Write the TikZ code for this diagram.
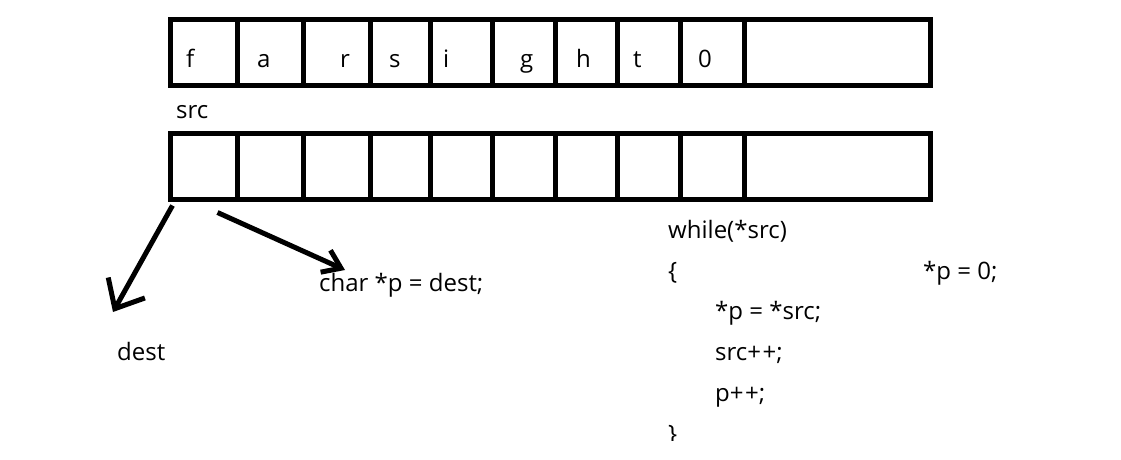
\documentclass[tikz,border=0pt]{standalone}
\usepackage{fontspec}
\setmainfont{Open Sans}
\usetikzlibrary{arrows.meta}

\tikzset{
  cellbox/.style={draw, line width=5pt, minimum height=66pt, inner sep=0pt},
  txt/.style={anchor=base west, inner sep=0pt, font=\fontsize{24}{29}\selectfont},
  ptr/.style={line width=5pt}
}

\begin{document}
\begin{tikzpicture}[x=1pt,y=-1pt]
\useasboundingbox (0,0) rectangle (1121,460);

% Drawing the two rows of cells
\foreach \xa/\xb [count=\i] in {170/237,237/303,303/370,370/430,430/492,492/555,555/617,617/680,680/744,744/930}{
  \node[cellbox, minimum width={(\xb-\xa)*1pt}] (t\i) at ({(\xa+\xb)/2},52.5) {};
  \node[cellbox, minimum width={(\xb-\xa)*1pt}] (b\i) at ({(\xa+\xb)/2},166.5) {};
}

% Letters of the source string
\foreach \x/\c [count=\i] in {186/f,257/a,340/r,389/s,443/i,520/g,576/h,633/t,698/0}{
  \node[txt] (c\i) at (\x,67) {\c};
}
\node[txt] (src) at (176,118) {src};

% Drawing pointers
\node[txt] (dest) at (117,360) {dest};
\node[txt] (decl) at (319,291) {char *p = dest;};
\coordinate (destTip) at (113,312);
\coordinate (declTip) at (345,270);
\draw[ptr, -{Straight Barb[length=24pt,width=42pt]}] ([shift={(5,3.5)}]b1.south west) -- (destTip);
\draw[ptr, -{Straight Barb[length=17pt,width=24pt]}] ([shift={(-22,10.5)}]b1.south east) -- (declTip);

% Drawing the loop
\node[txt] (loop) at (668,238) {while(*src)};
\node[txt] (open) at (668,279) {\{};
\node[txt] (end0) at (923,279) {*p = 0;};
\node[txt] (copy) at (715,319) {*p = *src;};
\node[txt] (incs) at (715,360) {src+\kern1.5pt+;};
\node[txt] (incp) at (715,401) {p+\kern1.5pt+;};
\begin{scope}
  \clip (600,0) rectangle (800,440);
  \node[txt] (close) at (668,442) {\}};
\end{scope}
\end{tikzpicture}
\end{document}
